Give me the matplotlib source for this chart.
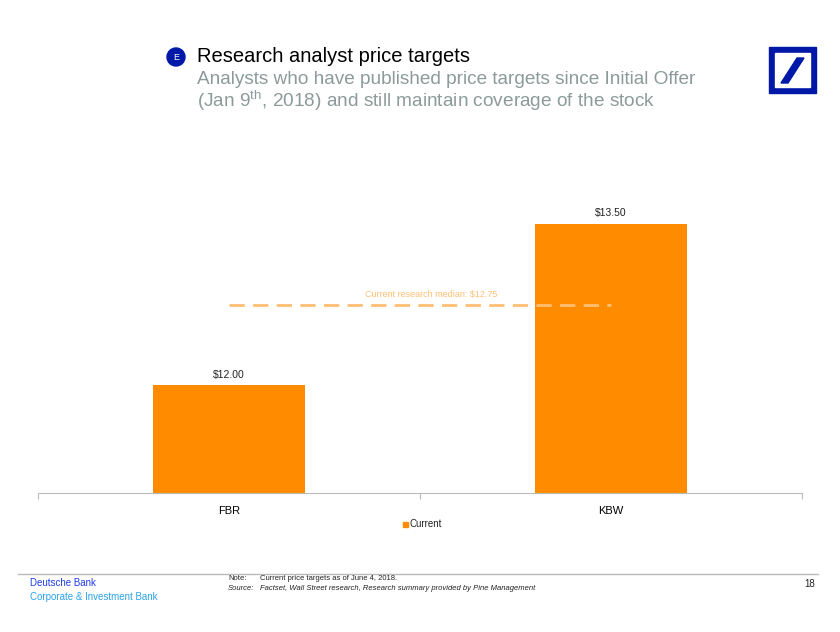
import matplotlib
matplotlib.use("Agg")
import matplotlib.pyplot as plt
from matplotlib.patches import Ellipse, Rectangle, Polygon
from matplotlib.lines import Line2D

plt.rcParams['font.family'] = ['Liberation Sans', 'DejaVu Sans']
plt.rcParams['mathtext.fontset'] = 'custom'
plt.rcParams['mathtext.rm'] = 'Liberation Sans'

categories = ["FBR", "KBW"]
values = [12.00, 13.50]
value_labels = ["$12.00", "$13.50"]
median_value = 12.75
median_label = "Current research median: $12.75"
series_name = "Current"

ORANGE = "#FF8C00"
LIGHT_ORANGE = "#FFBF73"
DB_BLUE = "#0018A8"
GRAY_TXT = "#8C9A9A"

fig = plt.figure(figsize=(8.4, 6.32), dpi=100)
W, H = 840, 632

def fx(px):
    return px / W

def fy(py):
    return 1 - py / H

ax = fig.add_axes([fx(38), fy(493), fx(802) - fx(38), fy(170) - fy(493)])
x = list(range(len(categories)))
ax.bar(x, values, width=0.4, color=ORANGE, bottom=0, zorder=2)
ax.set_xlim(-0.5, len(categories) - 0.5)
ax.set_ylim(11, 14)
for xi, v, lab in zip(x, values, value_labels):
    ax.text(xi, v + 0.05, lab, ha="center", va="bottom", fontsize=7.5, color="#222222")

ax.plot([x[0], x[-1]], [median_value, median_value], color=LIGHT_ORANGE, lw=2,
        dashes=(5.5, 3), zorder=3)
ax.text((x[0] + x[-1]) / 2 + 0.03, median_value + 0.05, median_label, ha="center", va="bottom",
        fontsize=6.5, color=LIGHT_ORANGE)

for s in ["top", "right", "left"]:
    ax.spines[s].set_visible(False)
ax.spines["bottom"].set_color("#BBBBBB")
ax.set_yticks([])
ax.set_xticks([-0.5, 0.5, 1.5])
ax.set_xticklabels([])
ax.tick_params(axis="x", direction="out", length=4, color="#BBBBBB")
ax.set_xticks(x, minor=True)
ax.set_xticklabels(categories, minor=True, fontsize=8)
ax.tick_params(axis="x", which="minor", length=0, pad=9)

# legend
fig.patches.append(Rectangle((fx(403), fy(527)), 5 / W, 5 / H, transform=fig.transFigure,
                             color=ORANGE, figure=fig))
fig.text(fx(409), fy(524), series_name, fontsize=7, va="center", ha="left", color="#222222")

# title
fig.patches.append(Ellipse((fx(176), fy(57)), width=18 / W, height=18 / H, transform=fig.transFigure,
                           color=DB_BLUE, figure=fig))
fig.text(fx(176), fy(57), "E", color="white", fontsize=6.5, ha="center", va="center")
fig.text(fx(197), fy(57), "Research analyst price targets", fontsize=14.5,
         ha="left", va="center", color="black")
fig.text(fx(197), fy(80), "Analysts who have published price targets since Initial Offer",
         fontsize=13.7, ha="left", va="center", color=GRAY_TXT)
fig.text(fx(197), fy(101), "(Jan 9$^{\\mathrm{th}}$, 2018) and still maintain coverage of the stock",
         fontsize=13.7, ha="left", va="center", color=GRAY_TXT)

# logo
fig.patches.append(Rectangle((fx(769), fy(93)), 47 / W, 46 / H, transform=fig.transFigure,
                             color=DB_BLUE, figure=fig))
fig.patches.append(Rectangle((fx(775), fy(87)), 35 / W, 34 / H, transform=fig.transFigure,
                             color="white", figure=fig))
fig.patches.append(Polygon([(fx(781), fy(83)), (fx(788), fy(83)), (fx(804), fy(58)), (fx(797), fy(58))],
                           closed=True, transform=fig.transFigure, color=DB_BLUE, figure=fig))

# footer
fig.lines.append(Line2D([fx(18), fx(818)], [fy(574), fy(574)], transform=fig.transFigure,
                        color="#BBBBBB", lw=1, figure=fig))
fig.text(fx(30), fy(583), "Deutsche Bank", fontsize=7, color="#1E3CE6", va="center")
fig.text(fx(30), fy(597), "Corporate & Investment Bank", fontsize=7, color="#2AA3E8", va="center")
fig.text(fx(228), fy(578), "Note:", fontsize=5.5, color="#222222", va="center")
fig.text(fx(260), fy(578), "Current price targets as of June 4, 2018.", fontsize=5.5,
         color="#222222", va="center")
fig.text(fx(228), fy(589), "Source:", fontsize=5.5, color="#222222", va="center", style="italic")
fig.text(fx(260), fy(589), "Factset, Wall Street research, Research summary provided by Pine Management",
         fontsize=5.5, color="#222222", va="center", style="italic")
fig.text(fx(815), fy(584), "18", fontsize=7, color="#222222", va="center", ha="right")

fig.savefig("out.png", dpi=100)
